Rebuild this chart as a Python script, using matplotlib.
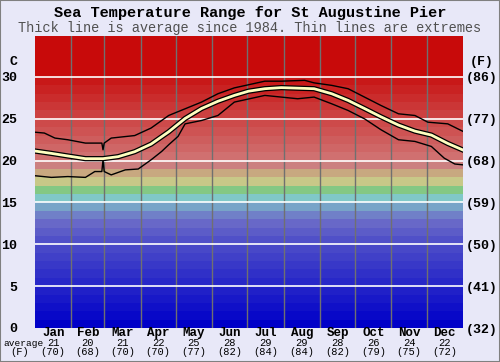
import numpy as np
import matplotlib
matplotlib.use("Agg")
import matplotlib.pyplot as plt
import matplotlib.patheffects as pe
import matplotlib.transforms as mtransforms

# === Data ===
month_names = ['Jan', 'Feb', 'Mar', 'Apr', 'May', 'Jun',
               'Jul', 'Aug', 'Sep', 'Oct', 'Nov', 'Dec']
month_days = [31, 28, 31, 30, 31, 30, 31, 31, 30, 31, 30, 31]
month_avg_c = [21, 20, 21, 22, 25, 28, 29, 29, 28, 26, 24, 22]
month_avg_f = [70, 68, 70, 70, 77, 82, 84, 84, 82, 79, 75, 72]

avg_days = [0, 14, 28, 43, 58, 71, 85, 99, 114, 128, 142, 156, 170, 182,
            196, 210, 238, 253, 267, 281, 295, 310, 324, 338, 352, 365]
avg_temp = [21.15, 20.87, 20.56, 20.24, 20.24, 20.48, 21.07, 21.98, 23.45,
            25.04, 26.23, 27.1, 27.8, 28.3, 28.6, 28.73, 28.6, 28.0, 27.2,
            26.23, 25.24, 24.25, 23.53, 23.06, 22.06, 21.27]

max_days = [0, 8, 17, 28, 43, 57, 58, 59, 65, 85, 99, 114, 128, 142, 156,
            170, 183, 196, 210, 230, 238, 253, 267, 281, 295, 310, 324, 335,
            352, 365]
max_temp = [23.4, 23.3, 22.7, 22.5, 22.1, 22.1, 21.3, 22.1, 22.7, 23.0,
            23.9, 25.4, 26.2, 27.0, 28.0, 28.7, 29.1, 29.5, 29.5, 29.6, 29.3,
            29.0, 28.6, 27.6, 26.6, 25.6, 25.4, 24.6, 24.4, 23.5]

min_days = [0, 14, 28, 43, 51, 57, 58, 59, 65, 77, 88, 99, 108, 114, 122,
            128, 142, 156, 170, 183, 196, 210, 224, 238, 253, 267, 281, 295,
            310, 324, 338, 349, 358, 365]
min_temp = [18.2, 18.0, 18.1, 18.0, 18.7, 18.7, 20.1, 18.7, 18.3, 18.9,
            19.0, 20.1, 21.1, 21.9, 22.9, 24.4, 24.8, 25.4, 27.0, 27.4, 27.8,
            27.6, 27.4, 27.6, 26.8, 26.0, 25.0, 23.7, 22.5, 22.3, 21.7, 20.3,
            19.6, 19.5]

c_ticks = [0, 5, 10, 15, 20, 25, 30]
f_ticks = ['(32)', '(41)', '(50)', '(59)', '(68)', '(77)', '(86)']

# === Colour bands (one per degree C, colour at lower edge) ===
anchor_t = [0, 5, 10, 12, 13, 14, 15, 16, 17, 18, 19, 20, 25, 29, 30, 35]
anchor_rgb = np.array([
    (0, 0, 200), (40, 40, 200), (80, 80, 200), (104, 104, 200),
    (112, 128, 200), (120, 164, 200), (128, 200, 200), (132, 200, 132),
    (200, 200, 136), (200, 168, 128), (204, 128, 128), (208, 112, 112),
    (204, 64, 64), (200, 24, 24), (200, 10, 10), (200, 10, 10)]) / 255.0

BG = '#e8e8f8'
MONO = ['Liberation Mono', 'DejaVu Sans Mono']

fig = plt.figure(figsize=(5.0, 3.62), dpi=100, facecolor=BG)
fig.patches.append(plt.Rectangle((0, 0), 1, 1, transform=fig.transFigure,
                                 fill=False, edgecolor='#808080', lw=1.5))
ax = fig.add_axes([35 / 500, 34 / 362, 428 / 500, 292 / 362])
ax.set_facecolor(BG)

for t in range(35):
    col = [np.interp(t, anchor_t, anchor_rgb[:, k]) for k in range(3)]
    ax.axhspan(t, t + 1, color=col, lw=0, zorder=0)

ax.set_xlim(0, 365)
ax.set_ylim(0, 34.9)

bounds = np.cumsum([0] + month_days)
for b in bounds[1:-1]:
    ax.axvline(b, color='#707070', lw=1, zorder=1)
for t in c_ticks[1:]:
    ax.axhline(t, color='white', lw=1.2, zorder=1)

ax.plot(max_days, max_temp, color='black', lw=1, zorder=3)
ax.plot(min_days, min_temp, color='black', lw=1, zorder=3)
ax.plot(avg_days, avg_temp, color='#ffffc0', lw=2, zorder=4,
        path_effects=[pe.Stroke(linewidth=3.8, foreground='black'), pe.Normal()])

for s in ax.spines.values():
    s.set_visible(False)

ax.set_xticks([])
ax.set_yticks(c_ticks)
ax.set_yticklabels([str(t) for t in c_ticks], family=MONO,
                   fontweight='bold', fontsize=9.5)
ax.tick_params(axis='y', length=0, pad=13)

ax2 = ax.twinx()
ax2.set_ylim(ax.get_ylim())
ax2.set_yticks(c_ticks)
ax2.set_yticklabels(f_ticks, family=MONO, fontweight='bold', fontsize=9.5)
ax2.tick_params(axis='y', length=0, pad=2)
for s in ax2.spines.values():
    s.set_visible(False)

# month labels and monthly averages
trans = mtransforms.blended_transform_factory(ax.transData, ax.transAxes)
mids = (bounds[:-1] + bounds[1:]) / 2
for m, name, c, f in zip(mids, month_names, month_avg_c, month_avg_f):
    ax.text(m, -0.018, name, transform=trans, ha='center', va='center',
            family=MONO, fontweight='bold', fontsize=9)
    ax.text(m, -0.052, str(c), transform=trans, ha='center', va='center',
            family=MONO, fontsize=7.5)
    ax.text(m, -0.083, '(%d)' % f, transform=trans, ha='center', va='center',
            family=MONO, fontsize=7.5)

fig.text(3 / 500, 1 - 343 / 362, 'average', ha='left', va='center',
         family=MONO, fontsize=6.8)
fig.text(20 / 500, 1 - 352 / 362, '(F)', ha='center', va='center',
         family=MONO, fontsize=7.5)
fig.text(14 / 500, 1 - 62 / 362, 'C', ha='center', va='center',
         family=MONO, fontweight='bold', fontsize=9.5)
fig.text(482 / 500, 1 - 62 / 362, '(F)', ha='center', va='center',
         family=MONO, fontweight='bold', fontsize=9.5)

fig.text(0.5, 1 - 13 / 362, 'Sea Temperature Range for St Augustine Pier',
         ha='center', va='center', family=MONO, fontweight='bold', fontsize=11)
fig.text(0.5, 1 - 28 / 362,
         'Thick line is average since 1984. Thin lines are extremes',
         ha='center', va='center', family=MONO, color='#505050', fontsize=9.8)

fig.savefig('out.png', dpi=100, facecolor=BG)
